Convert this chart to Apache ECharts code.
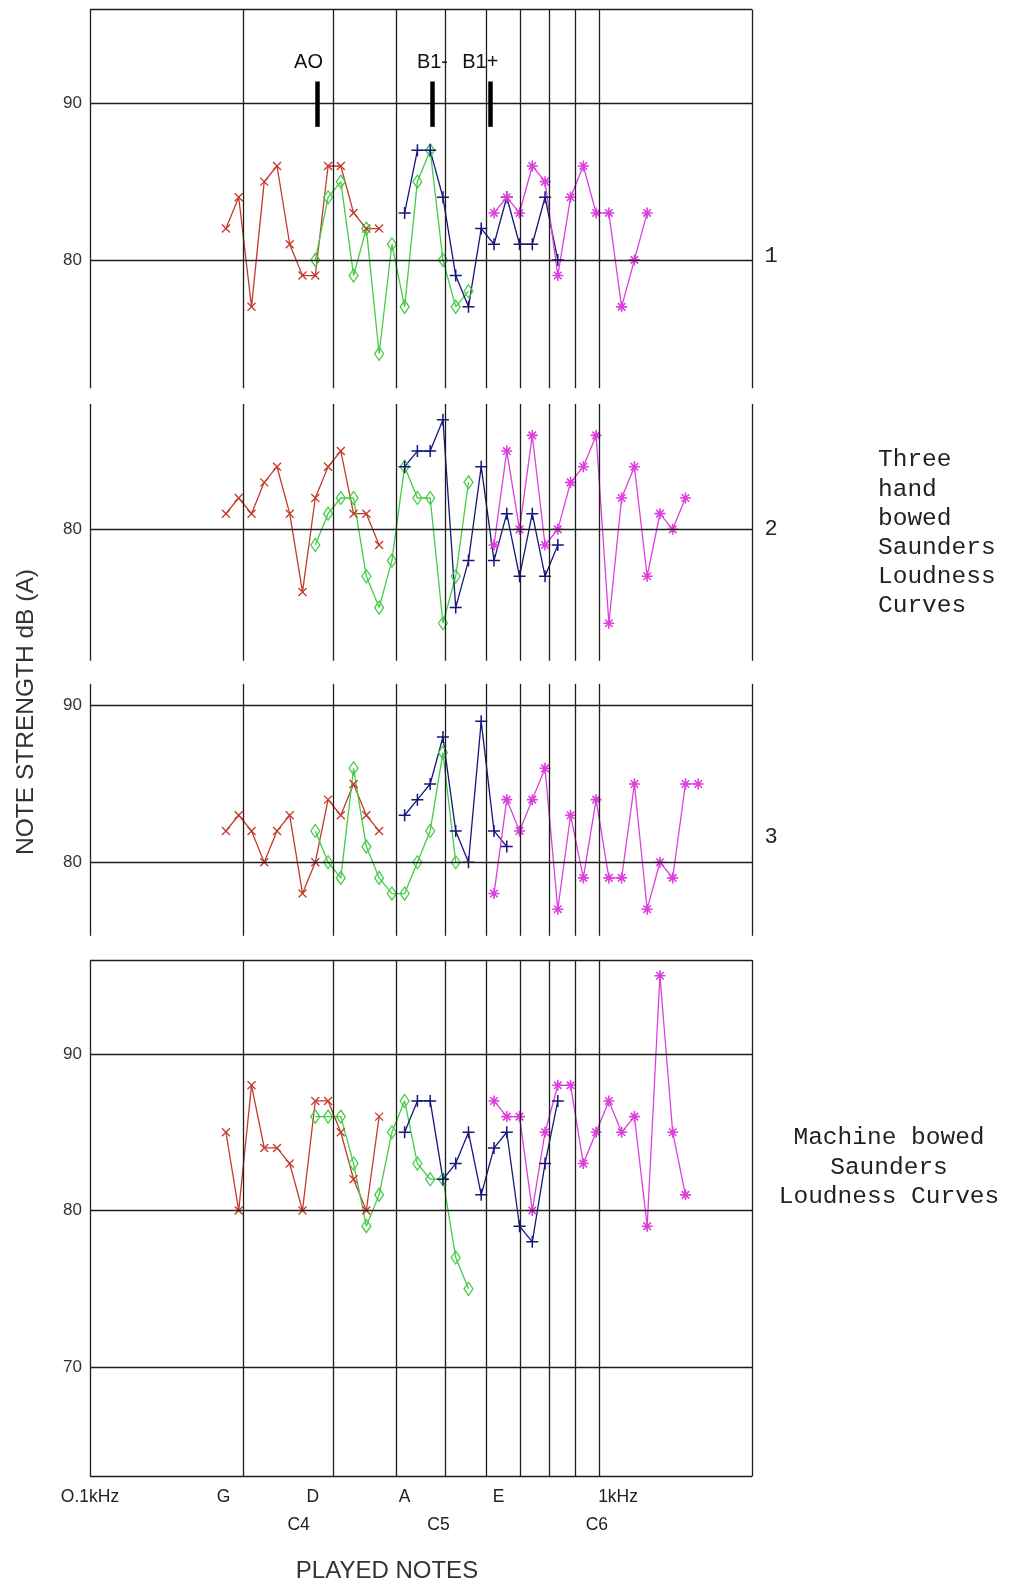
<!DOCTYPE html>
<html>
<head>
<meta charset="utf-8">
<script src="https://cdn.jsdelivr.net/npm/echarts@6/dist/echarts.min.js"></script>
<style>
  html, body { margin: 0; padding: 0; background: #fff; }
  #chart { width: 1010px; height: 1584px; }
</style>
</head>
<body>
<div id="chart"></div>
<script>
// Chromatic notes played, F#3 .. G6, and their pitch in Hz
const NOTE_NAMES = ['F#3','G3','G#3','A3','A#3','B3','C4','C#4','D4','D#4','E4','F4',
  'F#4','G4','G#4','A4','A#4','B4','C5','C#5','D5','D#5','E5','F5',
  'F#5','G5','G#5','A5','A#5','B5','C6','C#6','D6','D#6','E6','F6','F#6','G6'];
const NOTE_HZ = [185.0,196.0,207.7,220.0,233.1,246.9,261.6,277.2,293.7,311.1,329.6,349.2,
  370.0,392.0,415.3,440.0,466.2,493.9,523.3,554.4,587.3,622.3,659.3,698.5,
  740.0,784.0,830.6,880.0,932.3,987.8,1046.5,1108.7,1174.7,1244.5,1318.5,1396.9,1480.0,1568.0];

// index in NOTE_HZ of the first note measured on each string
const STRING_START = { G: 0, D: 7, A: 14, E: 21 };

// Loudness in dB(A), hand bowed instruments 1..3 and the machine bowed one
const P1_G = [82,84,77,85,86,81,79,79,86,86,83,82,82];
const P1_D = [80,84,85,79,82,74,81,77,85,87,80,77,78];
const P1_A = [83,87,87,84,79,77,82,81,84,81,81,84,80];
const P1_E = [83,84,83,86,85,79,84,86,83,83,77,80,83];

const P2_G = [81,82,81,83,84,81,76,82,84,85,81,81,79];
const P2_D = [79,81,82,82,77,75,78,84,82,82,74,77,83];
const P2_A = [84,85,85,87,75,78,84,78,81,77,81,77,79];
const P2_E = [79,85,80,86,79,80,83,84,86,74,82,84,77,81,80,82];

const P3_G = [82,83,82,80,82,83,78,80,84,83,85,83,82];
const P3_D = [82,80,79,86,81,79,78,78,80,82,87,80];
const P3_A = [83,84,85,88,82,80,89,82,81];
const P3_E = [78,84,82,84,86,77,83,79,84,79,79,85,77,80,79,85,85];

const P4_G = [85,80,88,84,84,83,80,87,87,85,82,80,86];
const P4_D = [86,86,86,83,79,81,85,87,83,82,82,77,75];
const P4_A = [85,87,87,82,83,85,81,84,85,79,78,83,87];
const P4_E = [87,86,86,80,85,88,88,83,85,87,85,86,79,95,85,81];

const PANELS = [
  { G: P1_G, D: P1_D, A: P1_A, E: P1_E },
  { G: P2_G, D: P2_D, A: P2_A, E: P2_E },
  { G: P3_G, D: P3_D, A: P3_A, E: P3_E },
  { G: P4_G, D: P4_D, A: P4_A, E: P4_E }
];

// axis ranges, labelled dB ticks and ruled dB lines of each panel
const Y_MIN = [71.8, 71.6, 75.3, 63];
const Y_MAX = [96, 88, 91.4, 96];
const Y_TICKS = [[80, 90], [80], [80, 90], [70, 80, 90]];
const Y_RULES = [[96, 90, 80], [80], [90, 80], [96, 90, 80, 70, 63]];

// frequency grid (Hz): 0.1 kHz .. 1 kHz in 100 Hz steps, then 2 kHz
const FREQ_RULES = [100, 200, 300, 400, 500, 600, 700, 800, 900, 1000, 2000];

// body modes marked on the first panel
const MODE_NAMES = ['AO', 'B1-', 'B1+'];
const MODE_HZ = [280, 471, 612];
const MODE_SPAN_DB = [88.5, 91.4];

// frequency axis labels: open strings / kHz, then the C notes
const ROW1_LABELS = ['O.1kHz', 'G', 'D', 'A', 'E', '1kHz'];
const ROW1_HZ = [100, 183, 274, 415, 635, 1091];
const ROW2_LABELS = ['C4', 'C5', 'C6'];
const ROW2_HZ = [257, 484, 991];

const PANEL_NAMES = ['1', '2', '3'];
const PANEL_NAME_DB = [80.25, 80.0, 81.6];
const HAND_TEXT = ['Three', 'hand', 'bowed', 'Saunders', 'Loudness', 'Curves'];
const MACHINE_TEXT = ['Machine bowed', 'Saunders', 'Loudness Curves'];

// ---- presentation ----
const GRID_TOP = [9.5, 404.1, 683.8, 960.1];
const GRID_H = [378.7, 256.7, 252, 516.5];
const STRING_STYLE = {
  G: { color: '#c4392c', symbol: 'path://M0,0L10,10M10,0L0,10', size: 8, bw: 1.3 },
  D: { color: '#44cc44', symbol: 'diamond', size: [9, 13], bw: 1.3 },
  A: { color: '#16167c', symbol: 'path://M5,0L5,10M0,5L10,5', size: 12, bw: 1.5 },
  E: { color: '#dd3fdd', symbol: 'path://M5,0L5,10M0,5L10,5M1.6,1.6L8.4,8.4M8.4,1.6L1.6,8.4', size: 11, bw: 1.6 }
};
const SANS = 'Liberation Sans, Arial, sans-serif';
const MONO = 'Liberation Mono, Courier New, monospace';
const RULE = { color: '#1e1e1e', width: 1.3, type: 'solid' };

const chart = echarts.init(document.getElementById('chart'), null, { renderer: 'canvas' });

const grid = [], xAxis = [], yAxis = [], series = [];
PANELS.forEach((panel, p) => {
  grid.push({ left: 90, width: 662, top: GRID_TOP[p], height: GRID_H[p] });
  xAxis.push({
    type: 'log', logBase: 10, min: 100, max: 2000, gridIndex: p,
    axisLine: { show: false }, axisTick: { show: false },
    axisLabel: { show: false }, splitLine: { show: false }
  });
  yAxis.push({
    type: 'value', gridIndex: p, min: Y_MIN[p], max: Y_MAX[p],
    axisLine: { show: false }, axisTick: { show: false }, splitLine: { show: false },
    axisLabel: {
      customValues: Y_TICKS[p], color: '#333', fontSize: 17,
      fontFamily: SANS, margin: 8
    }
  });

  // ruled frame of the panel
  const frameData = FREQ_RULES.map(f => ({ xAxis: f }))
    .concat(Y_RULES[p].map(v => ({ yAxis: v })));
  if (p === 0) {
    MODE_HZ.forEach(f => {
      frameData.push([
        { coord: [f, MODE_SPAN_DB[0]], lineStyle: { width: 4.5, color: '#000', type: 'solid' } },
        { coord: [f, MODE_SPAN_DB[1]] }
      ]);
    });
  }
  series.push({
    type: 'line', xAxisIndex: p, yAxisIndex: p, data: [], z: 1,
    markLine: {
      silent: true, symbol: ['none', 'none'], label: { show: false },
      lineStyle: RULE, animation: false, data: frameData
    }
  });

  ['G', 'D', 'A', 'E'].forEach(s => {
    const st = STRING_STYLE[s];
    const start = STRING_START[s];
    series.push({
      name: s, type: 'line', xAxisIndex: p, yAxisIndex: p, z: 3,
      data: panel[s].map((v, i) => [NOTE_HZ[start + i], v]),
      symbol: st.symbol, symbolSize: st.size, showAllSymbol: true,
      itemStyle: { color: 'rgba(0,0,0,0)', borderColor: st.color, borderWidth: st.bw },
      lineStyle: { color: st.color, width: 1.3 },
      emphasis: { disabled: true }
    });
  });
});

chart.setOption({
  animation: false,
  backgroundColor: '#fff',
  grid, xAxis, yAxis, series
});

// text placed through the axes' own scales
const px = (p, hz, db) => chart.convertToPixel({ xAxisIndex: p, yAxisIndex: p }, [hz, db]);
const graphic = [];
const bottom = px(3, 100, Y_MIN[3])[1];
ROW1_LABELS.forEach((t, i) => {
  graphic.push({ type: 'text', x: px(3, ROW1_HZ[i], 80)[0], y: bottom + 21,
    style: { text: t, fontSize: 17.5, fontFamily: SANS, fill: '#222', align: 'center', verticalAlign: 'middle' } });
});
ROW2_LABELS.forEach((t, i) => {
  graphic.push({ type: 'text', x: px(3, ROW2_HZ[i], 80)[0], y: bottom + 49,
    style: { text: t, fontSize: 17.5, fontFamily: SANS, fill: '#222', align: 'center', verticalAlign: 'middle' } });
});
graphic.push({ type: 'text', x: 387, y: 1571,
  style: { text: 'PLAYED NOTES', fontSize: 24, fontFamily: SANS, fill: '#333', align: 'center', verticalAlign: 'middle' } });
graphic.push({ type: 'text', x: 26, y: 712, rotation: Math.PI / 2,
  style: { text: 'NOTE STRENGTH dB (A)', fontSize: 24.5, fontFamily: SANS, fill: '#333', align: 'center', verticalAlign: 'middle' } });

const MODE_LABEL_SHIFT = [-9, 0, -10];
MODE_NAMES.forEach((t, i) => {
  const pt = px(0, MODE_HZ[i], MODE_SPAN_DB[1]);
  graphic.push({ type: 'text', x: pt[0] + MODE_LABEL_SHIFT[i], y: pt[1] - 19,
    style: { text: t, fontSize: 20, fontFamily: SANS, fill: '#111', align: 'center', verticalAlign: 'middle' } });
});

PANEL_NAMES.forEach((t, p) => {
  const pt = px(p, 2000, PANEL_NAME_DB[p]);
  graphic.push({ type: 'text', x: pt[0] + 19, y: pt[1],
    style: { text: t, fontSize: 22, fontFamily: MONO, fill: '#222', align: 'center', verticalAlign: 'middle' } });
});

HAND_TEXT.forEach((t, i) => {
  graphic.push({ type: 'text', x: 878, y: 460 + i * 29.2,
    style: { text: t, fontSize: 24.5, fontFamily: MONO, fill: '#222', align: 'left', verticalAlign: 'middle' } });
});
MACHINE_TEXT.forEach((t, i) => {
  graphic.push({ type: 'text', x: 889, y: 1138 + i * 29.5,
    style: { text: t, fontSize: 24.5, fontFamily: MONO, fill: '#222', align: 'center', verticalAlign: 'middle' } });
});

chart.setOption({ graphic });
</script>
</body>
</html>
